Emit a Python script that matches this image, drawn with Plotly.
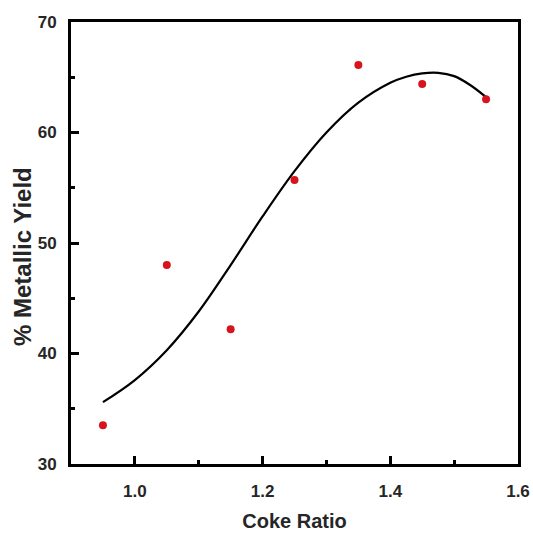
import plotly.graph_objects as go

# measured data points
coke_ratio = [0.95, 1.05, 1.15, 1.25, 1.35, 1.45, 1.55]
metallic_yield = [33.5, 48.0, 42.2, 55.7, 66.1, 64.4, 63.0]

# fitted curve
fit_x = [0.95, 1.0, 1.05, 1.10, 1.15, 1.20, 1.25, 1.30, 1.35, 1.40, 1.425, 1.45, 1.475, 1.50, 1.525, 1.55]
fit_y = [35.6, 37.6, 40.3, 43.8, 48.0, 52.4, 56.5, 60.0, 62.7, 64.5, 65.05, 65.35, 65.4, 65.1, 64.3, 63.2]

x_ticks = [1.0, 1.2, 1.4, 1.6]
y_ticks = [30, 40, 50, 60, 70]

font_family = "Liberation Sans, Arial, sans-serif"
text_color = "#262626"

fig = go.Figure()
fig.add_trace(go.Scatter(
    x=fit_x, y=fit_y, mode="lines",
    line=dict(color="black", width=2.2, shape="spline", smoothing=1.0),
    showlegend=False, hoverinfo="skip"))
fig.add_trace(go.Scatter(
    x=coke_ratio, y=metallic_yield, mode="markers",
    marker=dict(color="#d7141e", size=8, line=dict(width=0)),
    showlegend=False))

fig.update_layout(
    width=533, height=535,
    margin=dict(l=71, r=15, t=22, b=71),
    paper_bgcolor="white", plot_bgcolor="white",
    font=dict(family=font_family, color=text_color),
)
fig.update_xaxes(
    range=[0.9, 1.6], tickvals=x_ticks, ticktext=["1.0", "1.2", "1.4", "1.6"],
    automargin=False,
    showgrid=False, zeroline=False,
    showline=True, linecolor="black", linewidth=3, mirror=True,
    ticks="inside", ticklen=8, tickwidth=2.5, tickcolor="black",
    minor=dict(dtick=0.1, ticks="inside", ticklen=4, tickwidth=2.5, tickcolor="black", showgrid=False),
    tickfont=dict(size=17, weight="bold", color=text_color),
    ticklabelstandoff=10,
    title=dict(text="Coke Ratio", font=dict(size=20, weight="bold", color=text_color), standoff=14),
)
fig.update_yaxes(
    range=[30, 70], tickvals=y_ticks,
    automargin=False,
    showgrid=False, zeroline=False,
    showline=True, linecolor="black", linewidth=3, mirror=True,
    ticks="inside", ticklen=8, tickwidth=2.5, tickcolor="black",
    minor=dict(dtick=5, ticks="inside", ticklen=4, tickwidth=2.5, tickcolor="black", showgrid=False),
    tickfont=dict(size=17, weight="bold", color=text_color),
    ticklabelstandoff=8,
)
fig.add_annotation(
    text="% Metallic Yield", textangle=-90, showarrow=False,
    xref="paper", yref="paper", x=-(71 - 22) / 447, y=(464 - 257) / 442,
    xanchor="center", yanchor="middle",
    font=dict(size=24, weight="bold", color=text_color, family=font_family),
)

fig.write_html("out.html")
